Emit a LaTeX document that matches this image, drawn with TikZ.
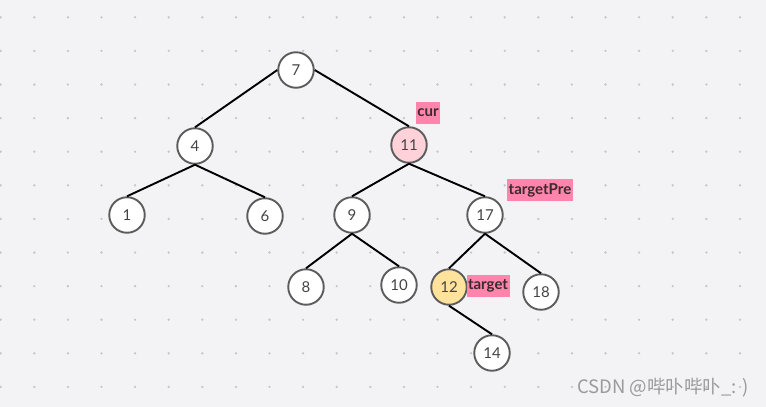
\documentclass[tikz,border=0pt]{standalone}
\usepackage{fontspec}
\setmainfont{Lato}
\newfontfamily\cjk{Noto Sans CJK SC}
\definecolor{paper}{HTML}{F3F3F6}
\definecolor{dotgray}{HTML}{C6C6CA}
\definecolor{ringgray}{HTML}{5C5C5C}
\definecolor{numgray}{HTML}{444444}
\definecolor{curpink}{HTML}{FFD2DA}
\definecolor{hityellow}{HTML}{FFE29C}
\definecolor{tagpink}{HTML}{FF85AD}
\definecolor{tagtext}{HTML}{3A2A30}
\definecolor{markgray}{HTML}{9A9A9A}
\begin{document}
\begin{tikzpicture}[x=1pt,y=-1pt,
  vert/.style={circle,draw=ringgray,line width=1.9pt,fill=white,minimum size=35.5pt,inner sep=0pt,
    font=\fontsize{15}{15}\selectfont,text=numgray},
  tag/.style={fill=tagpink,inner xsep=1.5pt,inner ysep=0pt,minimum height=22pt,
    font=\bfseries\fontsize{15}{15}\selectfont,text=tagtext},
  edge/.style={line width=1.9pt,black}]
\fill[paper] (0,0) rectangle (766,407);
\useasboundingbox (0,0) rectangle (766,407);
\foreach \i in {0,...,22}
  \foreach \j in {0,...,11}
    \fill[dotgray] (0.7+33.6*\i,17.3+33.6*\j) circle (1.3pt);

% tree
\node[vert] (n7) at (296,70) {7};
\node[vert] (n4) at (195,146) {4};
\node[vert,fill=curpink] (n11) at (409,145) {11};
\node[vert] (n1) at (127,215) {1};
\node[vert] (n6) at (265,216) {6};
\node[vert] (n9) at (352,215) {9};
\node[vert] (n17) at (485,215) {17};
\node[vert] (n8) at (306,287) {8};
\node[vert] (n10) at (399,285) {10};
\node[vert,fill=hityellow] (n12) at (449,287) {12};
\node[vert] (n18) at (541,292) {18};
\node[vert] (n14) at (492,353) {14};

\draw[edge] (n7.west) -- (n4.north);
\draw[edge] (n7.east) -- (n11.north);
\draw[edge] (n4.south) -- (n1.north);
\draw[edge] (n4.south) -- (n6.north);
\draw[edge] (n11.south) -- (n9.north);
\draw[edge] (n11.south) -- (n17.north);
\draw[edge] (n9.south) -- (n8.north);
\draw[edge] (n9.south) -- (n10.north);
\draw[edge] (n17.south) -- (n12.north);
\draw[edge] (n17.south) -- (n18.north);
\draw[edge] (n12.south) -- (n14.north);

% pointers
\node[tag] (cur) at (428,113) {cur};
\node[tag] (pre) at (540,190) {targetPre};
\node[tag] (tgt) at (488,286) {target};

\node[font=\cjk\fontsize{18.5}{18.5}\selectfont,text=markgray] (mark) at (663,388) {CSDN @哔卟哔卟\_: )};
\end{tikzpicture}
\end{document}
